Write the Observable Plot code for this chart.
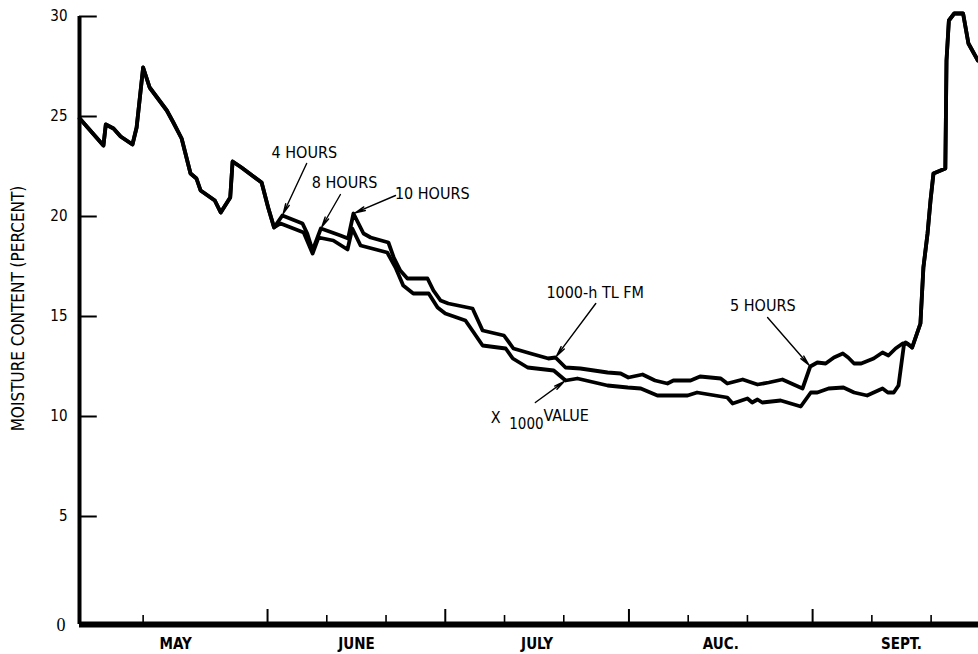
<!DOCTYPE html>
<html>
<head>
<meta charset="utf-8">
<script src="https://cdn.jsdelivr.net/npm/d3@7"></script>
<script src="https://cdn.jsdelivr.net/npm/@observablehq/plot@0.6"></script>
<style>
  html, body { margin: 0; padding: 0; background: #fff; }
</style>
</head>
<body>
<div id="chart"></div>
<script>
// Fuel moisture content through the season. Days are counted from May 1 (day 0).

// May: a single curve before the two estimates separate
const sharedDays   = [-0.7, 3.3, 3.7, 5.0, 6.2, 8.2, 8.9, 10.0, 11.1, 14.0, 15.1, 16.5, 18.0, 19.0, 19.7, 22.1, 23.1, 24.7, 25.1, 26.6, 30.0, 31.1, 32.1];
const sharedValues = [24.9, 23.55, 24.6, 24.4, 24.0, 23.6, 24.45, 27.45, 26.45, 25.3, 24.7, 23.9, 22.15, 21.9, 21.3, 20.8, 20.2, 20.95, 22.75, 22.45, 21.7, 20.45, 19.45];

// 1000-h TL FM (upper curve)
const tlDays   = [33.5, 36.9, 37.7, 38.6, 40.0, 41.9, 43.3, 44.6, 45.5, 47.2, 48.4, 51.4, 52.3, 53.4, 54.6, 58.0, 59.0, 60.2, 61.5, 65.6, 67.3, 70.9, 72.5, 75.4, 78.4, 79.6, 81.3, 83.8, 88.4, 90.6, 91.9, 94.3, 96.4, 98.5, 99.5, 102.4, 104.0, 107.5, 108.6, 111.2, 113.7, 115.6, 117.9, 121.3, 122.6, 123.8, 125.2, 126.6, 128.1, 129.0, 130.0, 131.2, 133.3, 134.8, 135.8, 137.0, 138.2, 139.0];
const tlValues = [20.05, 19.65, 19.15, 18.3, 19.4, 19.2, 19.05, 18.9, 20.15, 19.15, 18.95, 18.7, 17.95, 17.3, 16.9, 16.9, 16.3, 15.8, 15.65, 15.4, 14.3, 14.05, 13.4, 13.15, 12.9, 12.95, 12.45, 12.4, 12.2, 12.15, 11.95, 12.1, 11.8, 11.65, 11.8, 11.8, 12.0, 11.9, 11.65, 11.85, 11.6, 11.7, 11.85, 11.4, 12.5, 12.7, 12.65, 12.95, 13.15, 12.95, 12.65, 12.65, 12.9, 13.2, 13.05, 13.4, 13.65, 13.65];

// X 1000 value (lower curve)
const x1000Days   = [33.2, 37.1, 38.6, 39.6, 42.1, 44.5, 45.3, 46.7, 51.2, 52.6, 53.9, 55.6, 58.2, 59.7, 61.0, 64.4, 65.8, 67.3, 71.2, 72.4, 74.9, 79.3, 81.3, 83.3, 88.4, 91.8, 94.0, 96.8, 101.9, 103.5, 108.6, 109.5, 112.0, 112.8, 113.7, 114.5, 117.6, 121.0, 122.7, 123.8, 125.7, 128.2, 130.0, 132.2, 134.8, 135.7, 136.7, 137.5, 138.4, 138.7];
const x1000Values = [19.65, 19.2, 18.15, 18.95, 18.8, 18.35, 19.4, 18.55, 18.2, 17.45, 16.55, 16.15, 16.15, 15.45, 15.15, 14.8, 14.2, 13.55, 13.4, 12.9, 12.45, 12.3, 11.8, 11.9, 11.55, 11.45, 11.4, 11.05, 11.05, 11.2, 10.95, 10.65, 10.9, 10.7, 10.85, 10.7, 10.8, 10.5, 11.2, 11.2, 11.4, 11.45, 11.2, 11.05, 11.4, 11.2, 11.2, 11.55, 13.55, 13.7];

// September: the curves rejoin and climb with the rains
const lateDays   = [139.8, 141.2, 141.7, 142.4, 142.9, 143.4, 145.4, 145.6, 146.0, 146.9, 148.4, 149.3, 150.9];
const lateValues = [13.45, 14.65, 17.45, 19.15, 20.8, 22.15, 22.4, 27.8, 29.8, 30.15, 30.15, 28.65, 27.8];

// Axis ticks and labels
const yTicks      = [5, 10, 15, 20, 25, 30];
const yTickLabels = ["5", "10", "15", "20", "25", "30"];
const monthStarts = [31, 61, 92, 123];
const tenDayTicks = [10, 41, 51, 71, 81, 102, 112, 133, 143];
const monthNames  = ["MAY", "JUNE", "JULY", "AUC.", "SEPT."];
const monthMids   = [15.5, 46, 76.5, 107.5, 138];

// ---------------------------------------------------------------------------
const pts = (days, values) => days.map((day, i) => ({day, value: values[i]}));
const shared = pts(sharedDays, sharedValues);
const late = pts(lateDays, lateValues);
const upper = [...shared, ...pts(tlDays, tlValues), ...late];
const lower = [...shared, ...pts(x1000Days, x1000Values), ...late];
const pointAt = (series, day) => series.find(p => p.day === day);

const xMin = -0.74, xMax = 151.0;
const yMin = -0.4;
const sans = '"Liberation Sans Narrow", "DejaVu Sans Condensed", "Arial Narrow", sans-serif';
const serif = '"Liberation Serif", "DejaVu Serif", serif';

// Callouts: text placement and the curve point each arrow points to
const notes = [
  {text: "4 HOURS",       tx: 37.2, ty: 23.2,  sx: 37.6, sy: 22.65, tip: pointAt(upper, 33.5)},
  {text: "8 HOURS",       tx: 44.0, ty: 21.7,  sx: 43.3, sy: 21.1,  tip: pointAt(upper, 40.0)},
  {text: "10 HOURS",      tx: 58.8, ty: 21.15, sx: 52.6, sy: 21.05, tip: pointAt(upper, 45.5)},
  {text: "1000-h TL FM",  tx: 86.3, ty: 16.2,  sx: 86.4, sy: 15.65, tip: pointAt(upper, 79.6)},
  {text: "5 HOURS",       tx: 114.6, ty: 15.55, sx: 115.4, sy: 14.95, tip: pointAt(upper, 122.6)},
  {text: "",              tx: 0, ty: 0,        sx: 76.2, sy: 10.7,  tip: pointAt(lower, 81.3)}
];
const x1000Label = [
  {text: "X",     tx: 69.5, ty: 9.95, size: 16},
  {text: "1000",  tx: 74.7, ty: 9.6,  size: 15},
  {text: "VALUE", tx: 81.4, ty: 10.05, size: 16}
];

const chart = Plot.plot({
  width: 978,
  height: 654,
  marginLeft: 79,
  marginRight: 0,
  marginTop: 16,
  marginBottom: 30,
  x: {domain: [xMin, xMax], axis: null},
  y: {domain: [yMin, 30], axis: null},
  style: {background: "white", color: "black", overflow: "visible"},
  marks: [
    // y axis: spine, inward ticks and labels
    Plot.ruleX([xMin], {y1: yMin, y2: 30, stroke: "black", strokeWidth: 4}),
    Plot.ruleY(yTicks, {x1: xMin, x2: xMin + 3, stroke: "black", strokeWidth: 2}),
    Plot.text(yTicks, {x: xMin, y: d => d, text: (d, i) => yTickLabels[i], textAnchor: "end", dx: -12,
      fontSize: 15, fontFamily: sans, fill: "black"}),
    Plot.text(["0"], {x: xMin, y: 0, textAnchor: "end", dx: -14, dy: 9, fontSize: 18, fontFamily: serif, fill: "black"}),
    Plot.text(["MOISTURE CONTENT (PERCENT)"], {x: xMin, y: 15.4, rotate: -90, dx: -61,
      fontSize: 17, fontFamily: sans, fill: "black"}),

    // x axis: baseline, upward ticks and month names
    Plot.ruleX(monthStarts, {y1: yMin, y2: yMin + 0.75, stroke: "black", strokeWidth: 2}),
    Plot.ruleX(tenDayTicks, {y1: yMin, y2: yMin + 0.45, stroke: "black", strokeWidth: 1.6}),
    Plot.ruleY([yMin], {x1: xMin, x2: xMax, stroke: "black", strokeWidth: 6}),
    Plot.text(monthMids, {x: d => d, y: yMin, text: (d, i) => monthNames[i], dy: 20,
      fontSize: 15, fontWeight: "bold", fontFamily: sans, fill: "black"}),

    // the two moisture curves
    Plot.line(upper, {x: "day", y: "value", stroke: "black", strokeWidth: 3.8, strokeLinejoin: "round", strokeLinecap: "round"}),
    Plot.line(lower, {x: "day", y: "value", stroke: "black", strokeWidth: 3.8, strokeLinejoin: "round", strokeLinecap: "round"}),

    // callouts
    Plot.arrow(notes, {x1: "sx", y1: "sy", x2: d => d.tip.day, y2: d => d.tip.value,
      stroke: "black", strokeWidth: 1.4, headLength: 11, headAngle: 22, insetEnd: 2}),
    Plot.text(notes.filter(d => d.text), {x: "tx", y: "ty", text: "text", fontSize: 16, fontFamily: sans, fill: "black"}),
    Plot.text(x1000Label, {x: "tx", y: "ty", text: "text", fontSize: "size", fontFamily: sans, fill: "black"})
  ]
});

document.getElementById("chart").append(chart);
</script>
</body>
</html>
